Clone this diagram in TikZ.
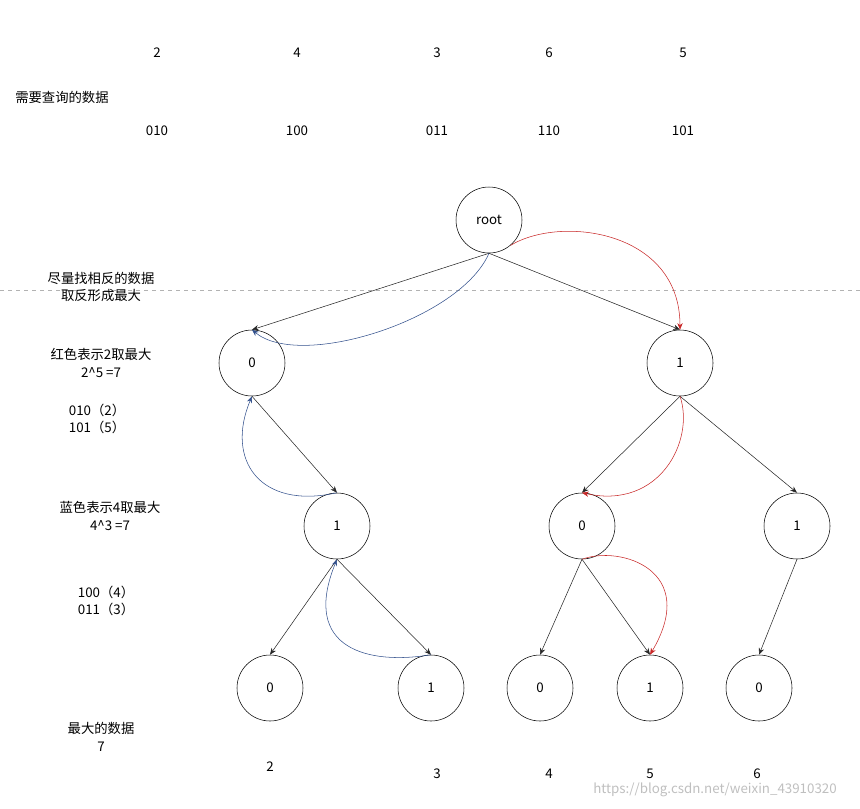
\documentclass[tikz,border=0pt]{standalone}
\usepackage{fontspec}
\setmainfont{Noto Sans CJK SC}
\usetikzlibrary{arrows.meta}
\definecolor{bluec}{RGB}{50,80,140}
\definecolor{redc}{RGB}{200,40,40}
\begin{document}
\begin{tikzpicture}[x=0.75pt,y=-0.75pt,
  nd/.style={circle,draw,minimum size=49.5pt,inner sep=0pt,font=\fontsize{10}{12}\selectfont},
  lbl/.style={font=\fontsize{10}{13}\selectfont,align=center},
  ed/.style={draw=black!85,-{Stealth[length=5pt,width=4pt]}},
  rc/.style={draw=redc,-{Stealth[length=5pt,width=4pt]}},
  bc/.style={draw=bluec,-{Stealth[length=5pt,width=4pt]}}]
\useasboundingbox (0,0) rectangle (860,808);
\draw[gray!60,dashed] (0,290) -- (860,290);
% top rows
\foreach \x/\a/\b [count=\i] in {157/2/010,297/4/100,437/3/011,549/6/110,683/5/101}{
  \node[lbl] (t\i) at (\x,53) {\a};
  \node[lbl] (u\i) at (\x,131) {\b};}
\node[lbl] (q) at (62,97) {需要查询的数据};
\node[lbl] (s1) at (101,287) {尽量找相反的数据\\取反形成最大};
\node[lbl] (s2) at (101,363) {红色表示2取最大\\2\^{}5 =7};
\node[lbl] (s3) at (97,419) {010（2）\\101（5）};
\node[lbl] (s4) at (110,516) {蓝色表示4取最大\\4\^{}3 =7};
\node[lbl] (s5) at (106,601) {100（4）\\011（3）};
\node[lbl] (s6) at (101,737) {最大的数据\\7};
\node[lbl] (v1) at (270,767) {2};
\node[lbl] (v2) at (437,774) {3};
\node[lbl] (v3) at (549,774) {4};
\node[lbl] (v4) at (650,774) {5};
\node[lbl] (v5) at (757,774) {6};
\node[lbl,text=gray!50] (w) at (715,790) {https://blog.csdn.net/weixin\_43910320};
% nodes
\node[nd] (root) at (489,220) {root};
\node[nd] (n0) at (252,363) {0};
\node[nd] (n1) at (680,363) {1};
\node[nd] (a1) at (337,526) {1};
\node[nd] (b0) at (582,526) {0};
\node[nd] (c1) at (797,526) {1};
\node[nd] (l1) at (270,688) {0};
\node[nd] (l2) at (431,688) {1};
\node[nd] (l3) at (540,688) {0};
\node[nd] (l4) at (650,688) {1};
\node[nd] (l5) at (759,688) {0};
% edges
\draw[ed] (root.south) -- (n0.north);
\draw[ed] (root.south) -- (n1.north);
\draw[ed] (n0.south) -- (a1.north);
\draw[ed] (n1.south) -- (b0.north);
\draw[ed] (n1.south) -- (c1.north);
\draw[ed] (a1.south) -- (l1.north);
\draw[ed] (a1.south) -- (l2.north);
\draw[ed] (b0.south) -- (l3.north);
\draw[ed] (b0.south) -- (l4.north);
\draw[ed] (c1.south) -- (l5.north);
% red
\draw[rc] (root.-50) .. controls (560,215) and (680,230) .. (n1.north);
\draw[rc] (n1.south) .. controls (695,440) and (660,510) .. (b0.north);
\draw[rc] (b0.south) .. controls (620,545) and (700,570) .. (l4.north);
% blue
\draw[bc] (root.south) .. controls (460,320) and (300,370) .. (n0.north);
\draw[bc] (a1.north) .. controls (260,510) and (225,460) .. (n0.south);
\draw[bc] (l2.north) .. controls (370,665) and (300,650) .. (a1.south);
\end{tikzpicture}
\end{document}
